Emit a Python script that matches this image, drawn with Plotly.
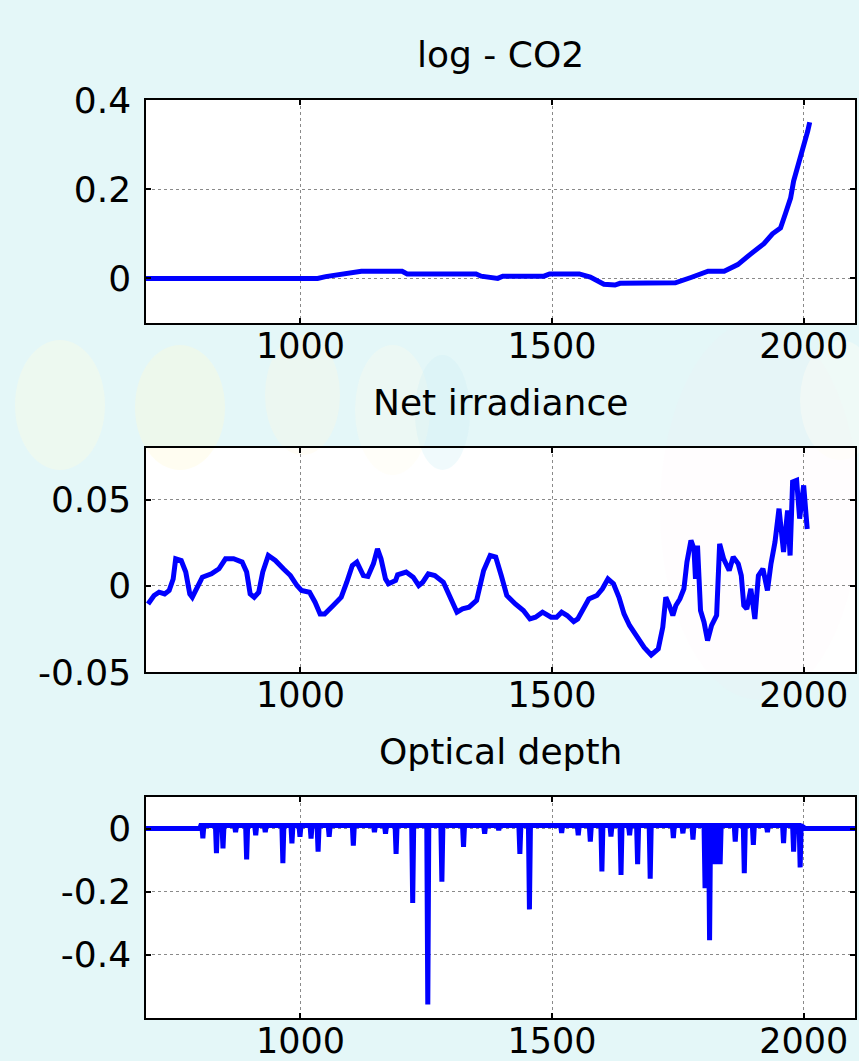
import plotly.graph_objects as go

# ---------------- data ----------------
co2_years = [693, 1034, 1050, 1083, 1121, 1202, 1212, 1349, 1359, 1392, 1402, 1484, 1495,
             1554, 1576, 1603, 1625, 1635, 1745, 1776, 1810, 1842, 1869, 1895, 1921, 1938,
             1954, 1964, 1974, 1980, 1990, 2000, 2008, 2012]
co2_values = [0.0, 0.0, 0.004, 0.01, 0.016, 0.016, 0.01, 0.01, 0.005, 0.0, 0.005, 0.005, 0.01,
              0.01, 0.003, -0.013, -0.015, -0.011, -0.01, 0.002, 0.016, 0.016, 0.031, 0.055,
              0.078, 0.10, 0.113, 0.146, 0.18, 0.218, 0.255, 0.30, 0.33, 0.35]

irr_years = [697, 709, 719, 730, 739, 747, 752, 763, 772, 780, 785, 794, 805, 823, 838, 851,
             867, 884, 893, 900, 908, 917, 925, 936, 950, 966, 980, 993, 1002, 1018, 1029,
             1039, 1048, 1065, 1081, 1092, 1103, 1112, 1125, 1134, 1145, 1153, 1160, 1169,
             1175, 1189, 1193, 1210, 1224, 1235, 1243, 1254, 1267, 1284, 1295, 1303, 1311,
             1322, 1335, 1350, 1364, 1377, 1388, 1399, 1410, 1427, 1443, 1456, 1467, 1481,
             1498, 1509, 1519, 1530, 1543, 1551, 1562, 1573, 1589, 1600, 1611, 1622, 1633,
             1643, 1654, 1668, 1683, 1697, 1711, 1720, 1726, 1733, 1740, 1746, 1754, 1762,
             1768, 1776, 1782, 1785, 1789, 1795, 1802, 1809, 1817, 1827, 1833, 1841, 1852,
             1860, 1870, 1876, 1881, 1887, 1895, 1903, 1910, 1919, 1928, 1935, 1943, 1951,
             1960, 1968, 1973, 1978, 1986, 1992, 2000, 2007]
irr_values = [-0.0105, -0.0056, -0.0037, -0.0047, -0.0027, 0.004, 0.0157, 0.0147, 0.008,
              -0.0047, -0.0066, -0.0017, 0.005, 0.007, 0.0099, 0.0157, 0.0157, 0.0138, 0.008,
              -0.0047, -0.0066, -0.0037, 0.008, 0.0176, 0.0147, 0.0099, 0.006, 0.0002,
              -0.0027, -0.0037, -0.0095, -0.0163, -0.0163, -0.0114, -0.0066, 0.0021, 0.0118,
              0.0138, 0.006, 0.0055, 0.0128, 0.0215, 0.0157, 0.004, 0.0012, 0.0031, 0.0064,
              0.008, 0.005, 0.0002, 0.0021, 0.007, 0.006, 0.0021, -0.0056, -0.0114, -0.0153,
              -0.0134, -0.0124, -0.0085, 0.0089, 0.0176, 0.0167, 0.006, -0.0056, -0.0105,
              -0.0143, -0.0192, -0.0182, -0.0153, -0.0182, -0.0182, -0.0153, -0.0172,
              -0.0207, -0.0192, -0.0134, -0.0076, -0.0056, -0.0017, 0.004, 0.0012, -0.0066,
              -0.0163, -0.023, -0.0298, -0.0357, -0.0401, -0.0366, -0.024, -0.0066, -0.0114,
              -0.0172, -0.0114, -0.0076, -0.0017, 0.0138, 0.0264, 0.0215, 0.004, 0.0234,
              -0.0143, -0.0211, -0.0318, -0.023, -0.0172, 0.0244, 0.0157, 0.0089, 0.0167,
              0.0128, 0.006, -0.0114, -0.0134, -0.0017, -0.0192, 0.006, 0.0099, -0.0027,
              0.0128, 0.0254, 0.0448, 0.0196, 0.0438, 0.0176, 0.0603, 0.0612, 0.039, 0.0583,
              0.033]

opt_years = [693, 800, 802, 804, 806, 808, 814, 831, 833, 835, 844, 846, 848, 869, 871, 873,
             891, 893, 895, 909, 911, 913, 928, 930, 932, 963, 965, 967, 981, 983, 985,
             997, 999, 1001, 1019, 1021, 1023, 1033, 1035, 1037, 1055, 1057, 1059, 1103,
             1105, 1107, 1145, 1147, 1149, 1167, 1169, 1171, 1188, 1190, 1192, 1221, 1223,
             1225, 1251, 1253, 1255, 1279, 1281, 1283, 1322, 1324, 1326, 1364, 1366, 1368,
             1392, 1394, 1396, 1434, 1436, 1438, 1453, 1455, 1457, 1517, 1519, 1521, 1550,
             1552, 1554, 1574, 1576, 1578, 1597, 1599, 1601, 1615, 1617, 1619, 1635, 1637,
             1639, 1652, 1654, 1656, 1668, 1670, 1672, 1693, 1695, 1697, 1739, 1741, 1743,
             1758, 1760, 1762, 1778, 1780, 1782, 1802, 1804, 1806, 1811, 1813, 1815, 1822,
             1824, 1826, 1832, 1834, 1836, 1862, 1864, 1866, 1880, 1882, 1884, 1898, 1900,
             1902, 1926, 1928, 1930, 1958, 1960, 1962, 1978, 1980, 1982, 1991, 1993, 1995,
             2003, 2102]
opt_values = [0.0, 0.0, 0.01, 0.01, -0.031, 0.01, 0.01, 0.01, -0.078, 0.01, 0.01, -0.063,
              0.01, 0.01, -0.011, 0.01, 0.01, -0.098, 0.01, 0.01, -0.021, 0.01, 0.01, -0.011,
              0.01, 0.01, -0.11, 0.01, 0.01, -0.047, 0.01, 0.01, -0.026, 0.01, 0.01, -0.032,
              0.01, 0.01, -0.073, 0.01, 0.01, -0.026, 0.01, 0.01, -0.054, 0.01, 0.01, -0.011,
              0.01, 0.01, -0.016, 0.01, 0.01, -0.08, 0.01, 0.01, -0.236, 0.01, 0.01, -0.557,
              0.01, 0.01, -0.168, 0.01, 0.01, -0.058, 0.01, 0.01, -0.016, 0.01, 0.01, -0.005,
              0.01, 0.01, -0.08, 0.01, 0.01, -0.256, 0.01, 0.01, -0.014, 0.01, 0.01, -0.021,
              0.01, 0.01, -0.041, 0.01, 0.01, -0.136, 0.01, 0.01, -0.025, 0.01, 0.01, -0.147,
              0.01, 0.01, -0.021, 0.01, 0.01, -0.113, 0.01, 0.01, -0.159, 0.01, 0.01, -0.03,
              0.01, 0.01, -0.015, 0.01, 0.01, -0.035, 0.01, 0.01, -0.189, 0.01, 0.01, -0.354,
              0.01, 0.01, -0.113, 0.01, 0.01, -0.113, 0.01, 0.01, -0.041, 0.01, 0.01, -0.141,
              0.01, 0.01, -0.052, 0.01, 0.01, -0.011, 0.01, 0.01, -0.046, 0.01, 0.01, -0.073,
              0.01, 0.01, -0.123, 0.01, 0.0, 0.0]

panel_titles = ["log - CO2", "Net irradiance", "Optical depth"]
x_ticks = [1000, 1500, 2000]
y_ticks = [[0, 0.2, 0.4], [-0.05, 0, 0.05], [-0.4, -0.2, 0]]
y_ticklabels = [["0", "0.2", "0.4"], ["-0.05", "0", "0.05"], ["-0.4", "-0.2", "0"]]
y_ranges = [[-0.1, 0.4], [-0.05, 0.08], [-0.6, 0.1]]
x_range = [693, 2102]

# ---------------- figure ----------------
W, H = 859, 1061
ml, mr, mt, mb = 146, 4, 100, 43
ph = H - mt - mb
boxes = [(100, 323), (448, 672), (797, 1018)]
domains = [[(1018 - b) / ph, (1018 - t) / ph] for t, b in boxes]

FONT = "DejaVu Sans"
LINE = "#0000ff"

fig = go.Figure()
series = [(co2_years, co2_values), (irr_years, irr_values), (opt_years, opt_values)]
for i, (xs, ys) in enumerate(series):
    sfx = "" if i == 0 else str(i + 1)
    fig.add_trace(go.Scatter(x=xs, y=ys, mode="lines",
                             line=dict(color=LINE, width=5),
                             xaxis="x" + sfx, yaxis="y" + sfx,
                             showlegend=False, hoverinfo="skip"))

axis_common = dict(
    showgrid=True, gridcolor="#8a8a8a", griddash="dot", gridwidth=1,
    showline=True, linecolor="black", linewidth=1.5, mirror="allticks",
    ticks="inside", ticklen=5, tickcolor="black", tickwidth=1.5,
    zeroline=False, automargin=False,
    tickfont=dict(family=FONT, size=36, color="black"),
)

layout = dict(
    width=W, height=H,
    margin=dict(l=ml, r=mr, t=mt, b=mb),
    paper_bgcolor="#e4f7f8",
    plot_bgcolor="white",
    showlegend=False,
)
for i in range(3):
    sfx = "" if i == 0 else str(i + 1)
    layout["xaxis" + sfx] = dict(
        axis_common, domain=[0, 1], range=x_range, tickvals=x_ticks,
        anchor="y" + sfx, ticklabelstandoff=-9,
        tickfont=dict(family=FONT, size=35, color="black"),
    )
    layout["yaxis" + sfx] = dict(
        axis_common, domain=domains[i], range=y_ranges[i],
        tickvals=y_ticks[i], ticktext=y_ticklabels[i],
        anchor="x" + sfx, ticklabelstandoff=6,
    )

fig.update_layout(**layout)

for i, t in enumerate(panel_titles):
    sfx = "" if i == 0 else str(i + 1)
    fig.add_annotation(text=t, xref="x" + sfx + " domain", yref="y" + sfx + " domain",
                       x=0.5, y=1, xanchor="center", yanchor="bottom", yshift=23,
                       showarrow=False, font=dict(family=FONT, size=36, color="black"))

# soft bokeh background blobs
blobs = [
    (15, 340, 105, 470, "rgba(255,252,225,0.35)"),
    (135, 345, 225, 470, "rgba(255,248,215,0.35)"),
    (265, 335, 340, 455, "rgba(255,250,225,0.3)"),
    (355, 345, 430, 475, "rgba(255,253,235,0.3)"),
    (415, 355, 470, 470, "rgba(205,240,245,0.3)"),
    (800, 340, 880, 460, "rgba(255,255,245,0.4)"),
    (660, 320, 859, 700, "rgba(250,228,238,0.08)"),
]
for x0, y0, x1, y1, c in blobs:
    fig.add_shape(type="circle", xref="paper", yref="paper", layer="below",
                  x0=(x0 - ml) / (W - ml - mr), x1=(x1 - ml) / (W - ml - mr),
                  y0=(1018 - y1) / ph, y1=(1018 - y0) / ph,
                  fillcolor=c, line=dict(width=0))

fig.write_html("out.html", config={"displayModeBar": False},
               post_script="document.body.style.margin='0';document.body.style.padding='0';"
                           "document.body.style.overflow='hidden';")
